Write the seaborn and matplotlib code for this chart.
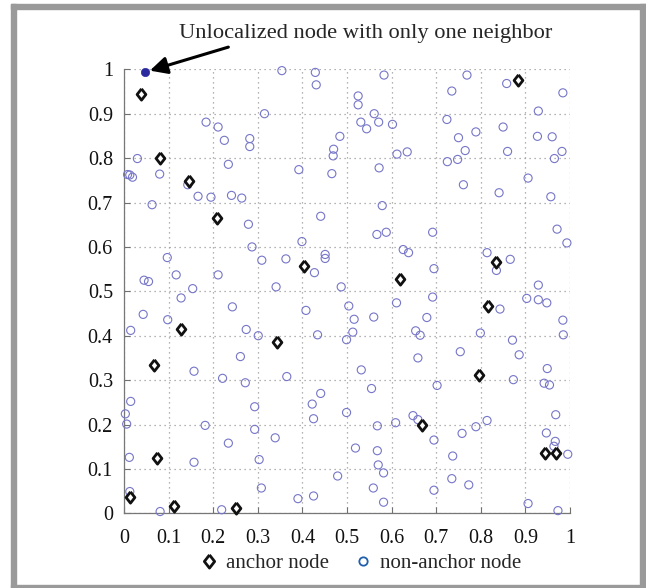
import numpy as np
import pandas as pd
import matplotlib
matplotlib.use('Agg')
import matplotlib.pyplot as plt
from matplotlib.lines import Line2D
from matplotlib.patches import Rectangle
import seaborn as sns

# anchor nodes (diamonds)
anchor_x = [0.039, 0.080, 0.146, 0.209, 0.403, 0.884, 0.835, 0.618, 0.128, 0.342,
            0.068, 0.073, 0.013, 0.113, 0.251, 0.817, 0.796, 0.669, 0.944, 0.969]
anchor_y = [0.945, 0.800, 0.749, 0.665, 0.557, 0.977, 0.565, 0.527, 0.414, 0.385,
            0.334, 0.124, 0.037, 0.016, 0.011, 0.466, 0.311, 0.199, 0.136, 0.136]

# non-anchor nodes (open circles)
node_x = [0.354, 0.429, 0.431, 0.315, 0.184, 0.211, 0.225, 0.282, 0.282, 0.484,
          0.470, 0.469, 0.030, 0.080, 0.008, 0.013, 0.019, 0.234, 0.392, 0.466,
          0.143, 0.166, 0.195, 0.241, 0.264, 0.063, 0.279, 0.441, 0.287, 0.399,
          0.097, 0.309, 0.363, 0.451, 0.451, 0.427, 0.117, 0.211, 0.045, 0.055,
          0.154, 0.341,
          0.583, 0.525, 0.525, 0.561, 0.531, 0.544, 0.571, 0.602, 0.769, 0.735,
          0.858, 0.984, 0.929, 0.724, 0.850, 0.789, 0.750, 0.927, 0.960, 0.765,
          0.860, 0.982, 0.965, 0.725, 0.748, 0.612, 0.635, 0.572, 0.906, 0.761,
          0.841, 0.957, 0.579, 0.567, 0.588, 0.692, 0.971, 0.993, 0.626, 0.638,
          0.814, 0.866, 0.835, 0.695, 0.487, 0.929,
          0.128, 0.043, 0.098, 0.243, 0.408, 0.015, 0.274, 0.301, 0.434, 0.261,
          0.157, 0.221, 0.272, 0.365, 0.015, 0.441, 0.422, 0.425, 0.003, 0.006,
          0.293, 0.182, 0.293, 0.234, 0.339, 0.012, 0.157, 0.303, 0.479, 0.308,
          0.013, 0.390, 0.425, 0.081, 0.219,
          0.504, 0.611, 0.692, 0.903, 0.929, 0.948, 0.843, 0.516, 0.560, 0.679,
          0.984, 0.513, 0.499, 0.654, 0.664, 0.799, 0.985, 0.871, 0.754, 0.886,
          0.659, 0.532, 0.949, 0.873, 0.555, 0.702, 0.942, 0.954, 0.499, 0.968,
          0.568, 0.609, 0.648, 0.659, 0.814, 0.789, 0.758, 0.947, 0.695, 0.967,
          0.964, 0.519, 0.568, 0.737, 0.995, 0.570, 0.582, 0.735, 0.773, 0.559,
          0.695, 0.582, 0.906, 0.973]
node_y = [0.997, 0.993, 0.965, 0.900, 0.881, 0.870, 0.840, 0.844, 0.826, 0.849,
          0.820, 0.805, 0.799, 0.764, 0.763, 0.762, 0.757, 0.786, 0.774, 0.765,
          0.740, 0.714, 0.712, 0.716, 0.710, 0.695, 0.651, 0.669, 0.600, 0.612,
          0.576, 0.570, 0.573, 0.583, 0.574, 0.542, 0.537, 0.537, 0.525, 0.522,
          0.506, 0.510,
          0.987, 0.940, 0.920, 0.900, 0.881, 0.866, 0.881, 0.876, 0.987, 0.951,
          0.968, 0.947, 0.906, 0.887, 0.870, 0.859, 0.846, 0.849, 0.848, 0.817,
          0.815, 0.815, 0.799, 0.792, 0.797, 0.809, 0.814, 0.778, 0.755, 0.740,
          0.722, 0.713, 0.693, 0.628, 0.633, 0.633, 0.640, 0.609, 0.594, 0.587,
          0.587, 0.572, 0.547, 0.551, 0.510, 0.514,
          0.485, 0.448, 0.436, 0.465, 0.457, 0.412, 0.414, 0.400, 0.402, 0.353,
          0.320, 0.304, 0.294, 0.308, 0.252, 0.270, 0.246, 0.213, 0.224, 0.201,
          0.240, 0.198, 0.189, 0.158, 0.170, 0.126, 0.115, 0.121, 0.084, 0.057,
          0.049, 0.033, 0.039, 0.004, 0.008,
          0.467, 0.474, 0.487, 0.484, 0.481, 0.474, 0.460, 0.437, 0.442, 0.441,
          0.435, 0.408, 0.391, 0.411, 0.401, 0.406, 0.402, 0.390, 0.364, 0.357,
          0.350, 0.323, 0.326, 0.301, 0.281, 0.288, 0.293, 0.289, 0.227, 0.222,
          0.197, 0.204, 0.220, 0.211, 0.209, 0.195, 0.180, 0.181, 0.165, 0.162,
          0.151, 0.147, 0.141, 0.129, 0.133, 0.109, 0.091, 0.078, 0.064, 0.057,
          0.052, 0.025, 0.022, 0.006]

# the node that could not be localized
lonely_x = [0.047]
lonely_y = [0.995]

ticks = [0, 0.1, 0.2, 0.3, 0.4, 0.5, 0.6, 0.7, 0.8, 0.9, 1]
tick_labels = ['0', '0.1', '0.2', '0.3', '0.4', '0.5', '0.6', '0.7', '0.8', '0.9', '1']

sns.set_style('white')
plt.rcParams['font.family'] = ['Liberation Serif', 'DejaVu Serif']

circle_col = '#7676c8'
diamond = [(0, 1), (0.78, 0), (0, -1), (-0.78, 0), (0, 1)]

fig = plt.figure(figsize=(6.46, 5.88), dpi=100)
ax = fig.add_axes([124/646, 1-513.3/588, 446/646, 444/588])

df_nodes = pd.DataFrame({'x': node_x, 'y': node_y})
df_anchor = pd.DataFrame({'x': anchor_x, 'y': anchor_y})
df_lonely = pd.DataFrame({'x': lonely_x, 'y': lonely_y})

sns.scatterplot(data=df_nodes, x='x', y='y', ax=ax, marker='o', s=34,
                fc='none', ec=circle_col, linewidth=0.8, clip_on=False, zorder=3)
sns.scatterplot(data=df_anchor, x='x', y='y', ax=ax, marker=diamond, s=66,
                fc='white', ec='#111111', linewidth=2.0, clip_on=False, zorder=4)
sns.scatterplot(data=df_lonely, x='x', y='y', ax=ax, marker='o', s=36,
                color='#2a2a9e', ec='#2a2a9e', clip_on=False, zorder=5)

ax.set_xlim(0, 1)
ax.set_ylim(0, 1)
ax.set_xticks(ticks)
ax.set_yticks(ticks)
ax.set_xticklabels(tick_labels)
ax.set_yticklabels(tick_labels)
ax.set_xlabel('')
ax.set_ylabel('')
ax.tick_params(direction='in', length=4, width=0.8, colors='#707070',
               labelcolor='#111111', labelsize=14.5, bottom=True, left=True)
ax.tick_params(axis='x', pad=11)
ax.tick_params(axis='y', pad=8)

# matlab style grid, box off
ax.grid(True, linestyle=(0, (1, 3)), color='#9a9a9a', linewidth=0.9)
ax.set_axisbelow(True)
for s in ['top', 'right']:
    ax.spines[s].set_visible(False)
for s in ['left', 'bottom']:
    ax.spines[s].set_color('#777777')
    ax.spines[s].set_linewidth(0.9)

# annotation
ax.text(0.543, 1.08, 'Unlocalized node with only one neighbor', ha='center', va='center',
        fontsize=16.2, transform=ax.transData, clip_on=False)
ax.annotate('', xy=(0.058, 0.997), xytext=(0.234, 1.05),
            arrowprops=dict(arrowstyle='-|>', lw=2.2, color='black', mutation_scale=26,
                            shrinkA=0, shrinkB=0),
            annotation_clip=False)

# legend
handles = [Line2D([], [], linestyle='none', marker=diamond, markersize=9.5,
                  markerfacecolor='white', markeredgecolor='#111111', markeredgewidth=2),
           Line2D([], [], linestyle='none', marker='o', markersize=6,
                  markerfacecolor='none', markeredgecolor='#1f5fae', markeredgewidth=1.3)]
fig.legend(handles, ['anchor node', 'non-anchor node'], loc='center',
           bbox_to_anchor=(0.557, 1-563/588), ncol=2, frameon=False, fontsize=15,
           handletextpad=0.3, columnspacing=1.15, handlelength=1.0)

# gray frame round the picture
gray = '#9a9a9a'
fig.patches.append(Rectangle((11/646, 0), 5/646, 1-4/588, transform=fig.transFigure, color=gray))
fig.patches.append(Rectangle((11/646, 1-9/588), 635/646, 5/588, transform=fig.transFigure, color=gray))
fig.patches.append(Rectangle((640/646, 0), 6/646, 1-4/588, transform=fig.transFigure, color=gray))
fig.patches.append(Rectangle((11/646, 1/588), 635/646, 2/588, transform=fig.transFigure, color=gray))

fig.savefig('out.png', dpi=100)
